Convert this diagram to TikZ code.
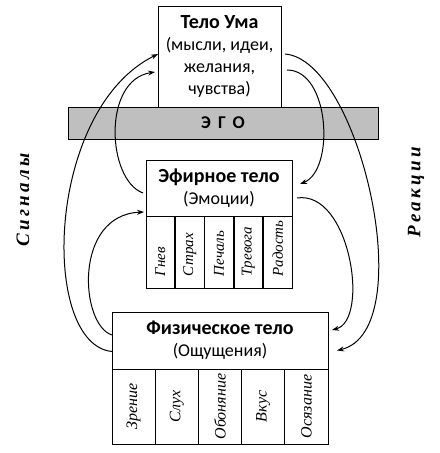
\documentclass[tikz,border=0pt]{standalone}
\usepackage{fontspec}
\usepackage{graphicx}
\setmainfont{Carlito}
\newfontfamily\cursive{Liberation Serif}
\usetikzlibrary{
  matrix,
  positioning,
  arrows.meta
}

\begin{document}
\begin{tikzpicture}[
    x=1bp, y=-1bp,
    box/.style={draw=black, line width=0.8bp, align=center, inner sep=0pt, outer sep=0pt,
      font=\fontsize{18bp}{22bp}\selectfont},
    columns/.style={
      matrix of nodes,
      inner sep=0pt,
      outer sep=0pt,
      nodes={draw=black, line width=0.8bp, inner sep=0pt, outer sep=0pt, anchor=center},
      },
    link/.style={line width=1bp, -{Stealth[length=7bp,width=5bp]}},
    side/.style={rotate=90,
      font=\cursive\fontsize{19bp}{19bp}\selectfont\bfseries\itshape\addfontfeatures{LetterSpace=18}}
    ]
\useasboundingbox (0,0) rectangle (440,453);

% ego bar
\node[box, fill=black!25, minimum width=310bp, minimum height=32bp,
  font=\fontsize{18bp}{18bp}\selectfont\bfseries\addfontfeatures{LetterSpace=40}] (ego) at (223,123) {ЭГО};

% bodies
\node[box, minimum width=123bp, minimum height=101bp] (mind) at (219.5,56.5)
  {{\fontsize{20bp}{24bp}\selectfont\bfseries Тело Ума}\\(мысли, идеи,\\желания,\\чувства)};

\node[box, minimum width=146bp, minimum height=56bp] (ether) at (219,188)
  {{\fontsize{20bp}{24bp}\selectfont\bfseries Эфирное тело}\\(Эмоции)};
\matrix[columns, column sep=0pt, below=-0.4bp of ether,
  nodes={minimum width=28.56bp, minimum height=72bp,
    font=\cursive\itshape\fontsize{15bp}{15bp}\selectfont}] (emotions) {
  \rotatebox{90}{\makebox[48bp][l]{Гнев}} &
  \rotatebox{90}{\makebox[48bp][l]{Страх}} &
  \rotatebox{90}{\makebox[48bp][l]{Печаль}} &
  \rotatebox{90}{\makebox[48bp][l]{Тревога}} &
  \rotatebox{90}{\makebox[48bp][l]{Радость}} \\
};

\node[box, minimum width=216bp, minimum height=57bp] (phys) at (220,340.5)
  {{\fontsize{20bp}{24bp}\selectfont\bfseries Физическое тело}\\(Ощущения)};
\matrix[columns, column sep=-0.8bp, below=-0.4bp of phys,
  nodes={minimum width=43.2bp, minimum height=75bp,
    font=\cursive\itshape\fontsize{16bp}{16bp}\selectfont}] (senses) {
  \rotatebox{90}{Зрение} &
  \rotatebox{90}{Слух} &
  \rotatebox{90}{Обоняние} &
  \rotatebox{90}{Вкус} &
  \rotatebox{90}{Осязание} \\
};

% signals
\draw[link] ([yshift=-11bp]phys.west) .. controls +(-72,-7) and +(-113,56) .. ([yshift=2.5bp]mind.west);
\draw[link] ([xshift=-3bp,yshift=-5bp]ether.west) .. controls +(-36,-13) and +(-53,8) .. ([xshift=-3bp,yshift=-15.5bp]mind.west);
\draw[link] ([yshift=5.5bp]phys.west) .. controls +(-32,-10) and +(-71,3) .. ([xshift=-2bp,yshift=-24bp]ether.west);

% reactions
\draw[link] ([xshift=4bp,yshift=2.5bp]mind.east) .. controls +(75,6) and +(84,-20) .. ([xshift=9bp,yshift=-10bp]phys.east);
\draw[link] ([xshift=6bp,yshift=-13.5bp]mind.east) .. controls +(43,0) and +(35,-14) .. ([xshift=8bp,yshift=4bp]ether.east);
\draw[link] ([xshift=5bp,yshift=-10bp]ether.east) .. controls +(53,-8) and +(38,-10) .. ([xshift=4bp,yshift=10.5bp]phys.east);

\node[side] (signals) at (23,200) {Сигналы};
\node[side] (reactions) at (416,192) {Реакции};
\end{tikzpicture}
\end{document}
